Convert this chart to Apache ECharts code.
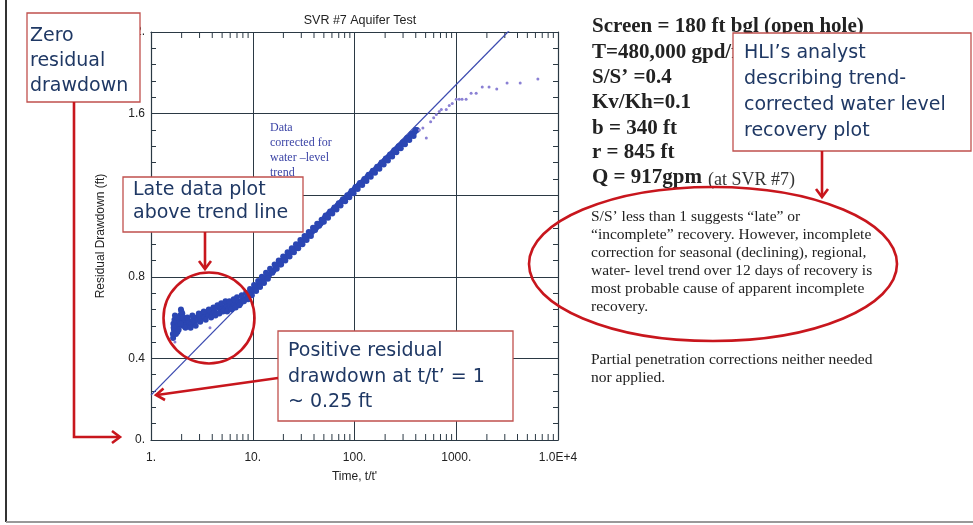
<!DOCTYPE html>
<html>
<head>
<meta charset="utf-8">
<script src="https://cdn.jsdelivr.net/npm/echarts@6/dist/echarts.min.js"></script>
<style>
html,body{margin:0;padding:0;background:#fff;}
#main{width:973px;height:525px;}
</style>
</head>
<body>
<div id="main"></div>
<script>
// ---------- DATA ----------
const chartTitle = 'SVR #7 Aquifer Test';
const xAxisTitle = "Time, t/t'";
const yAxisTitle = 'Residual Drawdown (ft)';
const xTickLabels = ['1.', '10.', '100.', '1000.', '1.0E+4'];
const yTickLabels = ['0.', '0.4', '0.8', '1.2', '1.6', '2.'];
const minorTickX = [2,3,4,5,6,7,8,9,20,30,40,50,60,70,80,90,200,300,400,500,600,700,800,900,2000,3000,4000,5000,6000,7000,8000,9000];

// dense recovery data (t/t', residual drawdown ft)
const bandPoints = [
[1.64,0.52],[1.66,0.57],[1.68,0.54],[1.70,0.59],[1.75,0.55],[1.78,0.58],[1.82,0.53],[1.85,0.56],[1.9,0.58],[1.93,0.61],
[1.97,0.64],[2.0,0.60],[2.03,0.62],[2.06,0.56],[2.1,0.58],[2.15,0.56],[2.2,0.59],[2.25,0.57],[2.3,0.59],[2.35,0.56],
[2.4,0.58],[2.5,0.57],[2.6,0.59],[2.7,0.58],[2.8,0.60],[2.9,0.59],[3.0,0.61],[3.1,0.60],[3.2,0.62],[3.35,0.60],
[3.5,0.62],[3.65,0.61],[3.8,0.63],[4.0,0.62],[4.2,0.63],[4.4,0.62],[4.6,0.65],[4.8,0.64],[5.0,0.65],[5.25,0.64],
[5.5,0.66],[5.75,0.64],[6.0,0.66],[6.3,0.65],[6.6,0.67],[6.9,0.66],[7.2,0.68],[7.6,0.67],[8.0,0.69],[8.4,0.69],
[8.8,0.70],[9.2,0.71],[9.6,0.72],[10,0.73],[10.5,0.75],[11,0.75],[11.5,0.77],[12,0.77],[12.6,0.79],[13.2,0.79],
[13.8,0.81],[14.5,0.81],[15.2,0.83],[16,0.83],[16.8,0.85],[17.6,0.86],[18.5,0.86],[19.4,0.88],[20.4,0.89],[21.4,0.90],
[22.5,0.91],[23.6,0.92],[24.8,0.93],[26,0.94],[27.3,0.95],[28.7,0.96],[30,0.97],[31.5,0.98],[33,0.99],[34.7,1.00],
[36.4,1.01],[38.2,1.02],[40,1.03],[42,1.04],[44,1.05],[46.3,1.06],[48.6,1.07],[51,1.09],[53.5,1.10],[56,1.11],
[59,1.12],[62,1.13],[65,1.14],[68,1.15],[71.5,1.16],[75,1.17],[79,1.18],[83,1.19],[87,1.20],[91,1.21],
[96,1.22],[100,1.23],[105,1.24],[110,1.25],[116,1.26],[122,1.27],[128,1.28],[134,1.29],[141,1.30],[148,1.31],
[155,1.32],[163,1.33],[171,1.34],[180,1.35],[189,1.36],[198,1.37],[208,1.38],[218,1.39],[229,1.40],[240,1.41],
[252,1.42],[265,1.43],[278,1.44],[292,1.45],[306,1.46],[321,1.47],[337,1.48],[354,1.49],[372,1.50],[390,1.51],[410,1.52],
[1.65,0.50],[1.67,0.55],[1.72,0.61],[1.76,0.52],[1.8,0.60],[1.87,0.54],[1.95,0.57],[1.99,0.63],[2.08,0.60],[2.18,0.55],
[2.28,0.60],[2.45,0.55],[2.55,0.61],[2.75,0.56],[2.95,0.62],[3.05,0.58],[3.3,0.63],[3.45,0.59],[3.7,0.64],[3.9,0.60],
[4.1,0.65],[4.3,0.61],[4.5,0.66],[4.7,0.62],[4.9,0.67],[5.1,0.63],[5.4,0.68],[5.6,0.63],[5.9,0.68],[6.2,0.64],
[6.5,0.69],[6.8,0.65],[7.0,0.70],[7.4,0.66],[7.8,0.71],[8.2,0.68],[8.6,0.72],[9.0,0.69],[9.4,0.74],[9.8,0.71],
[10.3,0.76],[10.8,0.73],[11.3,0.78],[11.8,0.75],[12.3,0.80],[12.9,0.77],[13.5,0.82],[14.1,0.79],[14.8,0.84],[15.6,0.82],
[16.4,0.86],[17.2,0.84],[18,0.88],[19,0.86],[19.9,0.90],[20.9,0.88],[22,0.92],[23,0.90],[24.2,0.94],[25.4,0.92],
[26.6,0.96],[28,0.94],[29.4,0.98],[30.8,0.96],[32.3,1.00],[33.8,0.98],[35.5,1.02],[37.3,1.00],[39.1,1.04],[41,1.03],
[43,1.06],[45,1.05],[47.5,1.08],[50,1.07],[52,1.10],[55,1.09],[57.5,1.12],[60.5,1.11],[63.5,1.14],[66.5,1.13],
[70,1.16],[73,1.15],[77,1.18],[81,1.17],[85,1.20],[89,1.19],[93.5,1.22],[98,1.21],[102.5,1.24],[107.5,1.23],
[113,1.26],[119,1.25],[125,1.28],[131,1.27],[137.5,1.30],[144.5,1.29],[151.5,1.32],[159,1.31],[167,1.34],[175.5,1.33],
[184.5,1.36],[193.5,1.35],[203,1.38],[213,1.37],[223.5,1.40],[234.5,1.39],[246,1.42],[258,1.41],[271.5,1.44],[285,1.43],
[299,1.46],[313.5,1.45],[329,1.48],[345.5,1.47],[363,1.50],[381,1.49],[400,1.52]
];
// sparse early-time / outlier points
const sparsePoints = [
[1.72,0.48],[3.8,0.55],
[434,1.52],[470,1.53],[508,1.48],[560,1.56],[600,1.58],[637,1.595],[681,1.61],[713,1.62],[798,1.62],[853,1.64],
[914,1.65],[1000,1.67],[1070,1.67],[1140,1.67],[1250,1.67],[1400,1.70],[1570,1.70],[1800,1.73],[2100,1.73],
[2500,1.72],[3160,1.75],[4250,1.75],[6340,1.77]
];
// straight-line (Cooper-Jacob) fit
const trendX = [1, 10000];
const trendY = [0.22, 2.25];

// ---------- CHART ----------
const chart = echarts.init(document.getElementById('main'));
const axisCol = '#2b3944';
const LS = 'Liberation Sans';
const DV = 'DejaVu Sans';
const SERIF = 'Liberation Serif';
const RED = '#c8161d';
const BOXRED = '#c0504d';
const NAVY = '#1f3864';

function xLabel(v){ const i = Math.round(Math.log10(v)); return xTickLabels[i] !== undefined ? xTickLabels[i] : ''; }
function yLabel(v){ const i = Math.round(v/0.4); return yTickLabels[i] !== undefined ? yTickLabels[i] : ''; }

function txt(x, y, s, size, family, color, weight, z){
  return {type:'text', x:x, y:y, z: z||50, style:{text:s, fontSize:size, fontFamily:family, fill:color, fontWeight:weight||'normal', verticalAlign:'middle', align:'left'}};
}
function box(x, y, w, h, z){
  return {type:'rect', z:z||60, shape:{x:x, y:y, width:w, height:h}, style:{fill:'#fff', stroke:BOXRED, lineWidth:1.3}};
}
function pl(points, z){
  return {type:'polyline', z:z||70, shape:{points:points}, style:{stroke:RED, lineWidth:2.6, fill:null, lineJoin:'miter'}};
}

const graphics = [
  // slide frame
  {type:'line', z:5, shape:{x1:6, y1:0, x2:6, y2:522}, style:{stroke:'#333', lineWidth:2}},
  {type:'line', z:5, shape:{x1:6, y1:522, x2:973, y2:522}, style:{stroke:'#999', lineWidth:2}},

  // in-plot note
  txt(270, 128, 'Data', 12, SERIF, '#3b44a6', 'normal', 30),
  txt(270, 143, 'corrected for', 12, SERIF, '#3b44a6', 'normal', 30),
  txt(270, 158, 'water \u2013level', 12, SERIF, '#3b44a6', 'normal', 30),
  txt(270, 173, 'trend', 12, SERIF, '#3b44a6', 'normal', 30),

  // right-side parameters
  txt(592, 27, 'Screen = 180 ft bgl (open hole)', 21, SERIF, '#222', 'bold', 40),
  txt(592, 53, 'T=480,000 gpd/ft', 21, SERIF, '#222', 'bold', 40),
  txt(592, 78, "S/S\u2019 =0.4", 21, SERIF, '#222', 'bold', 40),
  txt(592, 103, 'Kv/Kh=0.1', 21, SERIF, '#222', 'bold', 40),
  txt(592, 129, 'b = 340 ft', 21, SERIF, '#222', 'bold', 40),
  txt(592, 153, 'r = 845 ft', 21, SERIF, '#222', 'bold', 40),
  txt(592, 178, 'Q = 917gpm', 21, SERIF, '#222', 'bold', 40),
  txt(708, 180, '(at SVR #7)', 18, SERIF, '#333', 'normal', 40),

  txt(591, 217, 'S/S\u2019 less than 1 suggests \u201clate\u201d or', 15.5, SERIF, '#222', 'normal', 40),
  txt(591, 235, '\u201cincomplete\u201d recovery. However, incomplete', 15.5, SERIF, '#222', 'normal', 40),
  txt(591, 253, 'correction for seasonal (declining), regional,', 15.5, SERIF, '#222', 'normal', 40),
  txt(591, 271, 'water- level trend over 12 days of recovery is', 15.5, SERIF, '#222', 'normal', 40),
  txt(591, 289, 'most probable cause of apparent incomplete', 15.5, SERIF, '#222', 'normal', 40),
  txt(591, 307, 'recovery.', 15.5, SERIF, '#222', 'normal', 40),
  txt(591, 360, 'Partial penetration corrections neither needed', 15.5, SERIF, '#222', 'normal', 40),
  txt(591, 378, 'nor applied.', 15.5, SERIF, '#222', 'normal', 40),

  // ellipse around paragraph
  {type:'ellipse', z:45, shape:{cx:713, cy:264, rx:184, ry:77}, style:{fill:null, stroke:RED, lineWidth:2.6}},

  // HLI box
  box(733, 33, 238, 118, 60),
  txt(744, 53, 'HLI\u2019s analyst', 19, DV, NAVY, 'normal', 61),
  txt(744, 79, 'describing trend-', 19, DV, NAVY, 'normal', 61),
  txt(744, 105, 'corrected water level', 19, DV, NAVY, 'normal', 61),
  txt(744, 131, 'recovery plot', 19, DV, NAVY, 'normal', 61),
  pl([[822,151],[822,196]]),
  pl([[816,189],[822,197],[828,189]]),

  // Zero residual drawdown box + arrow
  box(27, 13, 113, 89, 60),
  txt(30, 36, 'Zero', 19, DV, NAVY, 'normal', 61),
  txt(30, 61, 'residual', 19, DV, NAVY, 'normal', 61),
  txt(30, 86, 'drawdown', 19, DV, NAVY, 'normal', 61),
  pl([[74,102],[74,437],[119,437]]),
  pl([[112,431],[120,437],[112,443]]),

  // Late data box + arrow + circle
  box(123, 177, 180, 55, 60),
  txt(133, 190, 'Late data plot', 19, DV, NAVY, 'normal', 61),
  txt(133, 213, 'above trend line', 19, DV, NAVY, 'normal', 61),
  pl([[205,232],[205,268]]),
  pl([[199,261],[205,269],[211,261]]),
  {type:'circle', z:55, shape:{cx:209, cy:318, r:45.5}, style:{fill:null, stroke:RED, lineWidth:2.6}},

  // Positive residual box + arrow
  box(278, 331, 235, 90, 60),
  txt(288, 351, 'Positive residual', 19, DV, NAVY, 'normal', 61),
  txt(288, 377, 'drawdown at t/t\u2019 = 1', 19, DV, NAVY, 'normal', 61),
  txt(288, 402, '~ 0.25 ft', 19, DV, NAVY, 'normal', 61),
  pl([[278,378],[157,395]]),
  pl([[163.5,388.5],[156,395],[165,400]])
];

const option = {
  backgroundColor:'#ffffff',
  animation:false,
  title:{
    text: chartTitle, left: 355, top: 9, textAlign:'center',
    textStyle:{fontFamily:LS, fontSize:12.5, fontWeight:'normal', color:'#222'}
  },
  grid:{left:151, top:32, width:407, height:408, containLabel:false},
  xAxis:[
    {type:'log', logBase:10, min:1, max:10000, position:'bottom',
     name:xAxisTitle, nameLocation:'middle', nameGap:31,
     nameTextStyle:{fontFamily:LS, fontSize:12, color:'#222'},
     axisLine:{show:true, onZero:false, lineStyle:{color:axisCol, width:1.2}},
     axisTick:{show:false},
     axisLabel:{formatter:xLabel, fontFamily:LS, fontSize:12, color:'#222', margin:12, showMinLabel:true, showMaxLabel:true},
     splitLine:{show:true, lineStyle:{color:axisCol, width:1}}},
    {type:'log', logBase:10, min:1, max:10000, position:'top',
     axisLine:{show:true, onZero:false, lineStyle:{color:axisCol, width:1.2}},
     axisTick:{show:false}, axisLabel:{show:false}, splitLine:{show:false}}
  ],
  yAxis:[
    {type:'value', min:0, max:2, interval:0.4, position:'left',
     name:yAxisTitle, nameLocation:'middle', nameGap:44,
     nameTextStyle:{fontFamily:LS, fontSize:12, color:'#222'},
     axisLine:{show:true, onZero:false, lineStyle:{color:axisCol, width:1.2}},
     axisTick:{show:true, inside:true, length:5, lineStyle:{color:axisCol}},
     minorTick:{show:true, splitNumber:5, length:5, lineStyle:{color:axisCol}},
     axisLabel:{formatter:yLabel, fontFamily:LS, fontSize:12, color:'#222', margin:6},
     splitLine:{show:true, lineStyle:{color:axisCol, width:1}}},
    {type:'value', min:0, max:2, interval:0.4, position:'right',
     axisLine:{show:true, onZero:false, lineStyle:{color:axisCol, width:1.2}},
     axisTick:{show:true, inside:true, length:5, lineStyle:{color:axisCol}},
     minorTick:{show:true, splitNumber:5, length:5, lineStyle:{color:axisCol}},
     axisLabel:{show:false}, splitLine:{show:false}}
  ],
  series:[
    {type:'custom', name:'xMinorTicks', xAxisIndex:0, yAxisIndex:0, silent:true, z:3, clip:false,
     encode:{x:0, y:1},
     data: minorTickX.map(v => [v, 0]),
     renderItem: function(params, api){
       const x = api.coord([api.value(0), 0])[0];
       const cs = params.coordSys;
       const st = {stroke:axisCol, lineWidth:1};
       return {type:'group', children:[
         {type:'line', shape:{x1:x, y1:cs.y+cs.height, x2:x, y2:cs.y+cs.height-6}, style:st},
         {type:'line', shape:{x1:x, y1:cs.y, x2:x, y2:cs.y+6}, style:st}
       ]};
     }},
    {type:'line', name:'Trend', z:4, symbol:'none', silent:true,
     data: trendX.map((x,i) => [x, trendY[i]]),
     lineStyle:{color:'#3c4bb0', width:1.3}},
    {type:'scatter', name:'Corrected data', z:6, symbol:'circle', symbolSize:6, silent:true,
     data: bandPoints, itemStyle:{color:'#2b46b3', opacity:1}},
    {type:'scatter', name:'Sparse data', z:6, symbol:'circle', symbolSize:3, silent:true,
     data: sparsePoints, itemStyle:{color:'#8a80d4', opacity:1}}
  ],
  graphic: graphics
};
chart.setOption(option);
</script>
</body>
</html>
